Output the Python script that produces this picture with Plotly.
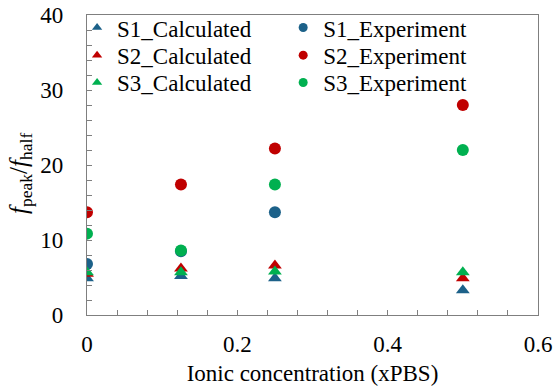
import plotly.graph_objects as go

x_vals = [0, 0.125, 0.25, 0.5]
s1_calc = [4.9, 5.2, 4.9, 3.3]
s2_calc = [5.5, 6.2, 6.6, 4.9]
s3_calc = [5.7, 5.7, 5.8, 5.7]
x_exp = [0, 0.125, 0.25]
s1_exp = [6.8, 8.5, 13.7]
x_exp_full = [0, 0.125, 0.25, 0.5]
s2_exp = [13.7, 17.4, 22.2, 28.0]
s3_exp = [10.85, 8.6, 17.4, 22.0]

BLUE = "#1C6189"
RED = "#C00000"
GREEN = "#00B050"
FONT = "Times New Roman, Liberation Serif, serif"

fig = go.Figure()

def add(x, y, color, symbol, name, legend):
    fig.add_trace(go.Scatter(x=x, y=y, mode="markers", name=name, showlegend=False,
                             marker=dict(color=color, symbol=symbol, size=12)))
    fig.add_trace(go.Scatter(x=[None], y=[None], mode="markers", name=name, legend=legend,
                             marker=dict(color=color, symbol=symbol, size=9)))

# experiments first, then calculated on top
add(x_exp, s1_exp, BLUE, "circle", "S1_Experiment", "legend4")
add(x_exp_full, s2_exp, RED, "circle", "S2_Experiment", "legend5")
add(x_exp_full, s3_exp, GREEN, "circle", "S3_Experiment", "legend6")
add(x_vals, s1_calc, BLUE, "triangle-up", "S1_Calculated", "legend")
add(x_vals, s2_calc, RED, "triangle-up", "S2_Calculated", "legend2")
add(x_vals, s3_calc, GREEN, "triangle-up", "S3_Calculated", "legend3")

axis_common = dict(
    showgrid=False, zeroline=False, showline=True, linecolor="#7f7f7f", linewidth=1.3,
    mirror=True, ticks="inside", ticklen=5, tickcolor="#7f7f7f", tickwidth=1.3,
    tickfont=dict(family=FONT, size=23, color="#000"), automargin=False,
)

row_y = [0.958, 0.866, 0.775]
col_x = [-0.022, 0.435]
legends = {}
names = ["legend", "legend2", "legend3", "legend4", "legend5", "legend6"]
for i, nm in enumerate(names):
    legends[nm] = dict(x=col_x[i // 3], y=row_y[i % 3], xanchor="left", yanchor="middle",
                       bgcolor="rgba(0,0,0,0)", font=dict(family=FONT, size=23, color="#000"))

fig.update_layout(
    width=555, height=392,
    margin=dict(l=87, r=17, t=15, b=77, autoexpand=False),
    paper_bgcolor="white", plot_bgcolor="white",
    font=dict(family=FONT, color="#000"),
    xaxis=dict(range=[0, 0.6], dtick=0.2, tickformat="~g", ticklabelstandoff=8,
               minor=dict(ticks="inside", dtick=0.04, ticklen=5, tickcolor="#7f7f7f", tickwidth=1.3),
               title=dict(text="Ionic concentration (xPBS)", font=dict(family=FONT, size=23), standoff=9),
               **axis_common),
    yaxis=dict(range=[0, 40], dtick=10, ticklabelstandoff=18,
               minor=dict(ticks="inside", dtick=2, ticklen=5, tickcolor="#7f7f7f", tickwidth=1.3),
               **axis_common),
    annotations=[dict(text="<i>f</i><sub>peak</sub>/<i>f</i><sub>half</sub>",
                      xref="paper", yref="paper", x=-0.149, y=0.473,
                      xanchor="center", yanchor="middle", textangle=-90, showarrow=False,
                      font=dict(family=FONT, size=25, color="#000"))],
    **legends,
)

fig.write_html("out.html", post_script="document.body.style.margin='0';",
               config={"displayModeBar": False})
